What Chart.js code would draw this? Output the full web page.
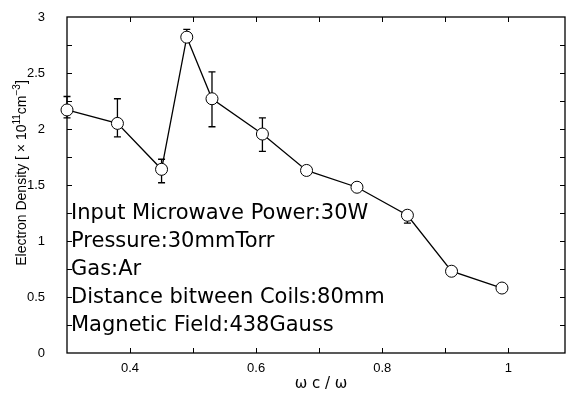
<!DOCTYPE html>
<html>
<head>
<meta charset="utf-8">
<script src="https://cdn.jsdelivr.net/npm/chart.js@4.4.1/dist/chart.umd.min.js"></script>
<style>
  html, body { margin: 0; padding: 0; background: #fff; overflow: hidden; }
  #wrap { width: 566px; height: 401px; }
</style>
</head>
<body>
<div id="wrap"><canvas id="chart" width="566" height="401"></canvas></div>
<script>
// --- data ---
const ratio = [0.30, 0.38, 0.45, 0.49, 0.53, 0.61, 0.68, 0.76, 0.84, 0.91, 0.99];
const density = [2.17, 2.05, 1.64, 2.82, 2.27, 1.955, 1.63, 1.48, 1.23, 0.73, 0.58];
// error bar ends (null = no bar)
const errHigh = [2.29, 2.27, 1.73, 2.89, 2.51, 2.10, null, null, 1.27, null, null];
const errLow  = [2.10, 1.93, 1.52, 2.78, 2.02, 1.80, null, null, 1.16, null, null];

const xTickLabels = [0.4, 0.6, 0.8, 1];
const yTickLabels = [0, 0.5, 1, 1.5, 2, 2.5, 3];

const notes = [
    'Input Microwave Power:30W',
    'Pressure:30mmTorr',
    'Gas:Ar',
    'Distance bitween Coils:80mm',
    'Magnetic Field:438Gauss'
];

const X_MIN = 0.3, X_MAX = 1.09;
const TICK_FONT = '13px "Liberation Sans", Arial, sans-serif';

function noPad(s) {
    s.paddingTop = 0; s.paddingBottom = 0;
    s.paddingLeft = 0; s.paddingRight = 0;
}

// draw text runs with superscripts, centred on 0,0
function drawRuns(ctx, runs) {
    let total = 0;
    runs.forEach(r => { ctx.font = r.font; r.w = ctx.measureText(r.t).width; total += r.w; });
    let cx = -total / 2;
    runs.forEach(r => {
        ctx.font = r.font;
        ctx.fillText(r.t, cx, r.dy || 0);
        cx += r.w;
    });
}

// inward ticks, frame, error bars, annotation text
const framePlugin = {
    id: 'frame',
    beforeDatasetsDraw(chart) {
        const { ctx, chartArea: a, scales: { x, y } } = chart;
        ctx.save();
        ctx.strokeStyle = '#000';
        ctx.lineWidth = 1.3;
        ctx.strokeRect(a.left, a.top, a.right - a.left, a.bottom - a.top);

        ctx.lineWidth = 1;
        // x ticks every 0.1 (bottom & top)
        for (let v = 0.4; v < X_MAX; v += 0.1) {
            const px = Math.round(x.getPixelForValue(v)) + 0.5;
            ctx.beginPath();
            ctx.moveTo(px, a.bottom); ctx.lineTo(px, a.bottom - 5);
            ctx.moveTo(px, a.top); ctx.lineTo(px, a.top + 5);
            ctx.stroke();
        }
        // y ticks every 0.25 (left & right)
        for (let v = 0.25; v < 3; v += 0.25) {
            const py = Math.round(y.getPixelForValue(v)) + 0.5;
            ctx.beginPath();
            ctx.moveTo(a.left, py); ctx.lineTo(a.left + 5, py);
            ctx.moveTo(a.right, py); ctx.lineTo(a.right - 5, py);
            ctx.stroke();
        }

        // x tick labels
        ctx.fillStyle = '#000';
        ctx.font = TICK_FONT;
        ctx.textAlign = 'center';
        ctx.textBaseline = 'top';
        xTickLabels.forEach(v => ctx.fillText(String(v), x.getPixelForValue(v), a.bottom + 9));

        // error bars
        ctx.lineWidth = 1.3;
        ratio.forEach((r, i) => {
            if (errHigh[i] == null) return;
            const px = x.getPixelForValue(r);
            const y1 = y.getPixelForValue(errHigh[i]);
            const y2 = y.getPixelForValue(errLow[i]);
            ctx.beginPath();
            ctx.moveTo(px, y1); ctx.lineTo(px, y2);
            ctx.moveTo(px - 3.5, y1); ctx.lineTo(px + 3.5, y1);
            ctx.moveTo(px - 3.5, y2); ctx.lineTo(px + 3.5, y2);
            ctx.stroke();
        });
        ctx.restore();
    },
    afterDraw(chart) {
        const { ctx, chartArea: a } = chart;
        ctx.save();
        ctx.fillStyle = '#000';
        // annotation block
        ctx.font = '21px "DejaVu Sans", sans-serif';
        ctx.textBaseline = 'middle';
        ctx.textAlign = 'left';
        notes.forEach((t, i) => ctx.fillText(t, a.left + 4, 214 + i * 28));

        // x title
        ctx.font = '15px "DejaVu Sans", sans-serif';
        ctx.textAlign = 'center';
        ctx.fillText('ω c / ω', 321, 384);

        // y title
        ctx.textAlign = 'left';
        ctx.translate(22, 173);
        ctx.rotate(-Math.PI / 2);
        const big = '14px "Liberation Sans", Arial, sans-serif';
        const sup = '10px "Liberation Sans", Arial, sans-serif';
        drawRuns(ctx, [
            { t: 'Electron Density [ \u00d7 10', font: big },
            { t: '11', font: sup, dy: -5 },
            { t: 'cm', font: big },
            { t: '\u22123', font: sup, dy: -5 },
            { t: ']', font: big }
        ]);
        ctx.restore();
    }
};

new Chart(document.getElementById('chart'), {
    type: 'scatter',
    data: {
        datasets: [{
            data: ratio.map((r, i) => ({ x: r, y: density[i] })),
            showLine: true,
            borderColor: '#000',
            borderWidth: 1.3,
            pointRadius: 6,
            pointBackgroundColor: '#fff',
            pointBorderColor: '#000',
            pointBorderWidth: 1,
            tension: 0,
            clip: false
        }]
    },
    options: {
        responsive: false,
        animation: false,
        layout: { autoPadding: false, padding: { top: 17, right: 1, left: 0, bottom: 0 } },
        plugins: { legend: { display: false }, tooltip: { enabled: false } },
        scales: {
            x: {
                type: 'linear',
                min: X_MIN, max: X_MAX,
                grid: { display: false, drawTicks: false },
                border: { display: false },
                ticks: { display: false },
                afterFit: s => { s.height = 48; noPad(s); }
            },
            y: {
                min: 0, max: 3,
                grid: { display: false, drawTicks: false },
                border: { display: false },
                afterBuildTicks: s => { s.ticks = yTickLabels.map(v => ({ value: v })); },
                afterFit: s => { s.width = 67; noPad(s); },
                ticks: {
                    padding: 22,
                    color: '#000',
                    font: { family: '"Liberation Sans", Arial, sans-serif', size: 13 },
                    callback: v => String(v)
                }
            }
        }
    },
    plugins: [framePlugin]
});
</script>
</body>
</html>
